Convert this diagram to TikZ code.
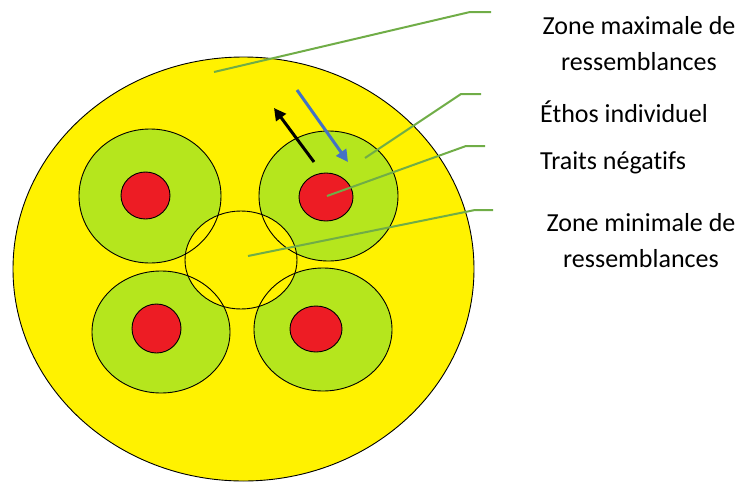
\documentclass[tikz,border=0pt]{standalone}
\usepackage{fontspec}
\setmainfont{Carlito}[Ligatures=NoCommon]
\usetikzlibrary{arrows.meta}
\definecolor{zyellow}{HTML}{FFF200}
\definecolor{zlime}{HTML}{B5E61D}
\definecolor{zred}{HTML}{ED1C24}
\definecolor{leader}{HTML}{70AD47}
\definecolor{zblue}{HTML}{4472C4}
\tikzset{
  outl/.style={draw=black,line width=0.9pt},
  leaderline/.style={draw=leader,line width=2pt},
  lbl/.style={font=\fontsize{26}{36}\selectfont,inner sep=0pt,text=black},
  bigarrow/.style={line width=3pt,-{Triangle[length=12pt,width=12pt]}}
}
\begin{document}
\begin{tikzpicture}[x=1pt,y=-1pt]
\useasboundingbox (0,0) rectangle (742,482);
% big ellipse
\path[fill=zyellow,outl] (243.5,269) ellipse [x radius=230.5,y radius=212];
% green zones
\path[fill=zlime] (150,196) ellipse [x radius=71,y radius=67];
\path[fill=zlime] (328.5,196) ellipse [x radius=69.5,y radius=65];
\path[fill=zlime] (161,332) ellipse [x radius=69,y radius=61];
\path[fill=zlime] (323,329.5) ellipse [x radius=69,y radius=61.5];
% central zone
\path[fill=zyellow,outl] (241,260) ellipse [x radius=56,y radius=49];
% outlines of green zones
\path[outl] (150,196) ellipse [x radius=71,y radius=67];
\path[outl] (328.5,196) ellipse [x radius=69.5,y radius=65];
\path[outl] (161,332) ellipse [x radius=69,y radius=61];
\path[outl] (323,329.5) ellipse [x radius=69,y radius=61.5];
% red cores
\path[fill=zred,outl] (145.5,195.5) ellipse [x radius=24.5,y radius=23.5];
\path[fill=zred,outl] (326,197) ellipse [x radius=27,y radius=24];
\path[fill=zred,outl] (156.5,328.5) ellipse [x radius=24.5,y radius=24.5];
\path[fill=zred,outl] (316,329) ellipse [x radius=26,y radius=23];
% arrows
\coordinate (bs) at (297,90);
\coordinate (be) at (348,162);
\coordinate (ks) at (314,162);
\coordinate (ke) at (274,108);
\draw[bigarrow,zblue] (bs) -- (be);
\draw[bigarrow,black] (ks) -- (ke);
% labels
\node[lbl,align=center] (tmax) at (639,44) {Zone maximale de\\ressemblances};
\node[lbl,anchor=west] (teth) at (540,112) {Éthos individuel};
\node[lbl,anchor=west] (ttra) at (540,163) {Traits négatifs};
\node[lbl,align=center] (tmin) at (641,241) {Zone minimale de\\ressemblances};
% leader lines
\coordinate (a1) at (214,72);
\coordinate (b1) at (470,12);
\coordinate (c1) at (491,12);
\coordinate (a2) at (365,158);
\coordinate (b2) at (461,94);
\coordinate (c2) at (481,94);
\coordinate (a3) at (327,196);
\coordinate (b3) at (466,146);
\coordinate (c3) at (485,146);
\coordinate (a4) at (248,256);
\coordinate (b4) at (475,210);
\coordinate (c4) at (493,210);
\draw[leaderline] (a1) -- (b1) -- (c1);
\draw[leaderline] (a2) -- (b2) -- (c2);
\draw[leaderline] (a3) -- (b3) -- (c3);
\draw[leaderline] (a4) -- (b4) -- (c4);
\end{tikzpicture}
\end{document}
